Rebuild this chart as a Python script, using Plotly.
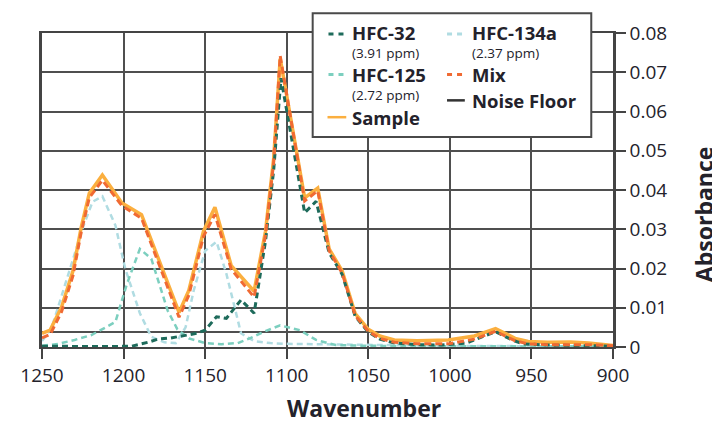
import plotly.graph_objects as go

# ---------------- data ----------------
sample_w = [1250, 1245, 1238, 1231, 1226, 1221, 1213, 1201, 1189, 1166, 1160, 1151, 1144, 1134, 1120,
            1113, 1108, 1104, 1089, 1081, 1074, 1066, 1058, 1050, 1043, 1034, 1020, 1001, 985, 972,
            960, 952, 940, 926, 915, 904, 900]
sample_a = [0.0035, 0.0043, 0.0102, 0.0194, 0.0304, 0.0392, 0.0438, 0.0367, 0.0337, 0.0088, 0.0144,
            0.0295, 0.0356, 0.0207, 0.0142, 0.0295, 0.048, 0.0735, 0.0380, 0.0405, 0.025, 0.0194,
            0.0085, 0.0045, 0.0028, 0.0018, 0.0016, 0.0018, 0.0028, 0.0047, 0.0022, 0.0014, 0.0012,
            0.0013, 0.0010, 0.0006, 0.0004]

mix_w = [1250, 1245, 1238, 1231, 1226, 1221, 1213, 1201, 1189, 1166, 1160, 1151, 1144, 1134, 1120,
         1113, 1108, 1104, 1089, 1081, 1074, 1066, 1058, 1050, 1043, 1034, 1020, 1001, 985, 972,
         960, 952, 940, 926, 915, 904, 900]
mix_a = [0.0023, 0.0032, 0.0090, 0.0182, 0.0292, 0.0380, 0.0425, 0.0360, 0.0328, 0.0076, 0.0132,
         0.0282, 0.0338, 0.0198, 0.0127, 0.0285, 0.047, 0.0742, 0.0372, 0.0398, 0.0245, 0.0188,
         0.0080, 0.0040, 0.0022, 0.0012, 0.0008, 0.0008, 0.0020, 0.0040, 0.0016, 0.0008, 0.0006,
         0.0007, 0.0006, 0.0004, 0.0003]

hfc32_w = [1250, 1230, 1210, 1195, 1185, 1179, 1171, 1163, 1155, 1150, 1143, 1137, 1128, 1120, 1113,
           1108, 1103.5, 1089, 1082, 1074, 1066, 1058, 1050, 1043, 1034, 1020, 1005, 990, 982, 972,
           962, 955, 940, 920, 900]
hfc32_a = [0.0002, 0.0001, 0.0001, 0.0002, 0.0012, 0.0020, 0.0023, 0.0029, 0.0035, 0.0043, 0.0077,
           0.0073, 0.0120, 0.0086, 0.0270, 0.045, 0.0685, 0.0342, 0.0371, 0.0240, 0.0185, 0.0078,
           0.0038, 0.0020, 0.0010, 0.0006, 0.0005, 0.0010, 0.0022, 0.0039, 0.0018, 0.0008, 0.0005,
           0.0004, 0.0002]

hfc125_w = [1250, 1240, 1230, 1220, 1211, 1205, 1198, 1190, 1183, 1173, 1167, 1160, 1150, 1140, 1130,
            1122, 1114, 1104, 1092, 1082, 1070, 1050, 1000, 950, 900]
hfc125_a = [0.0003, 0.0008, 0.0018, 0.0030, 0.0050, 0.0064, 0.0160, 0.0250, 0.0225, 0.0093, 0.0045,
            0.0022, 0.0010, 0.0007, 0.0010, 0.0023, 0.0039, 0.0055, 0.0043, 0.0018, 0.0005, 0.0003,
            0.0002, 0.0002, 0.0001]

hfc134a_w = [1250, 1244, 1235, 1225, 1219, 1213, 1205, 1199, 1190, 1183, 1175, 1168, 1162, 1157, 1150,
             1143, 1137, 1128, 1120, 1110, 1100, 1050, 1000, 950, 900]
hfc134a_a = [0.0015, 0.0050, 0.0170, 0.0304, 0.0370, 0.0384, 0.0310, 0.0200, 0.0086, 0.0026, 0.0012,
             0.0010, 0.0050, 0.0144, 0.0245, 0.0268, 0.0187, 0.0035, 0.0015, 0.0010, 0.0008, 0.0005,
             0.0003, 0.0002, 0.0002]

noise_w = [1250, 900]
noise_a = [0.0038, 0.0038]

x_ticks = [1250, 1200, 1150, 1100, 1050, 1000, 950, 900]
y_ticks = [0, 0.01, 0.02, 0.03, 0.04, 0.05, 0.06, 0.07, 0.08]
y_ticktext = ["0", "0.01", "0.02", "0.03", "0.04", "0.05", "0.06", "0.07", "0.08"]

C32 = "#1e6b5b"
C125 = "#7ccfbf"
C134 = "#b0dce2"
CMIX = "#f06a33"
CSAMP = "#fbaf3f"
GRID = "#4f4f4f"
TXT = "#23222b"
FONT = "Open Sans"

fig = go.Figure()
fig.add_trace(go.Scatter(x=noise_w, y=noise_a, mode="lines", name="Noise Floor",
                         line=dict(color=GRID, width=2)))
fig.add_trace(go.Scatter(x=hfc134a_w, y=hfc134a_a, mode="lines", name="HFC-134a",
                         line=dict(color=C134, width=2.5, dash="6px,4px")))
fig.add_trace(go.Scatter(x=hfc125_w, y=hfc125_a, mode="lines", name="HFC-125",
                         line=dict(color=C125, width=2.5, dash="6px,4px")))
fig.add_trace(go.Scatter(x=sample_w, y=sample_a, mode="lines", name="Sample",
                         line=dict(color=CSAMP, width=3.5)))
fig.add_trace(go.Scatter(x=hfc32_w, y=hfc32_a, mode="lines", name="HFC-32",
                         line=dict(color=C32, width=3, dash="6px,4px")))
fig.add_trace(go.Scatter(x=mix_w, y=mix_a, mode="lines", name="Mix",
                         line=dict(color=CMIX, width=3, dash="7px,4px")))

# The page body has an 8px default margin: work in page pixels, shift by OFF.
OFF = 8
W, H = 720 - OFF, 424 - OFF
L, R, T, B = 35 - OFF, 613 - OFF, 30 - OFF, 347 - OFF


def px(xp):
    return (xp - OFF - L) / (R - L)


def py(yp):
    return (B - (yp - OFF)) / (B - T)


shapes = []
annotations = []

# legend box
shapes.append(dict(type="rect", xref="paper", yref="paper", x0=px(309), x1=px(591), y0=py(135), y1=py(10),
                   line=dict(color="#4a4a4a", width=2), fillcolor="white", layer="above"))

legend_items = [
    # symbol x0, x1, y, color, dash, label, sub, label_y, sub_y, text_x
    (325, 342, 31, C32, "5px,5px", "HFC-32", "(3.91 ppm)", 29, 50, 348),
    (325, 342, 72, C125, "5px,5px", "HFC-125", "(2.72 ppm)", 72, 93, 348),
    (324, 343, 115, CSAMP, None, "Sample", None, 115, None, 348),
    (445, 463, 31, C134, "5px,5px", "HFC-134a", "(2.37 ppm)", 29, 50, 469),
    (445, 463, 72, CMIX, "5px,5px", "Mix", None, 72, None, 469),
    (445, 463, 98, "#333333", None, "Noise Floor", None, 98, None, 469),
]
for x0, x1, yy, col, dash, lab, sub, ly, sy, tx in legend_items:
    ln = dict(color=col, width=3 if dash else 2.5)
    if dash:
        ln["dash"] = dash
    shapes.append(dict(type="line", xref="paper", yref="paper", x0=px(x0), x1=px(x1), y0=py(yy), y1=py(yy),
                       line=ln, layer="above"))
    annotations.append(dict(xref="paper", yref="paper", x=px(tx), y=py(ly), xanchor="left", yanchor="middle",
                            text="<b>" + lab + "</b>", showarrow=False, borderpad=0,
                            font=dict(family=FONT, size=18.5, color=TXT)))
    if sub:
        annotations.append(dict(xref="paper", yref="paper", x=px(tx), y=py(sy), xanchor="left",
                                yanchor="middle", text=sub, showarrow=False, borderpad=0,
                                font=dict(family=FONT, size=13.5, color=TXT)))

# axis titles
annotations.append(dict(xref="paper", yref="paper", x=px(361), y=py(409), xanchor="center", yanchor="middle",
                        text="<b>Wavenumber</b>", showarrow=False, font=dict(family=FONT, size=23, color=TXT)))
annotations.append(dict(xref="paper", yref="paper", x=px(705), y=py(213), xanchor="center", yanchor="middle",
                        text="<b>Absorbance</b>", textangle=-90, showarrow=False,
                        font=dict(family=FONT, size=23, color=TXT)))

fig.update_layout(
    width=W, height=H,
    margin=dict(l=L, r=W - R, t=T, b=H - B, pad=0),
    paper_bgcolor="white", plot_bgcolor="white",
    showlegend=False,
    shapes=shapes, annotations=annotations,
    font=dict(family=FONT, color=TXT),
)
fig.update_xaxes(range=[1250, 900], tickvals=x_ticks, ticktext=[str(v) for v in x_ticks],
                 showgrid=True, gridcolor=GRID, gridwidth=2, zeroline=False,
                 showline=True, linecolor="#444444", linewidth=2, mirror=True,
                 ticks="outside", ticklen=10, tickwidth=2, tickcolor="#444444",
                 tickfont=dict(family=FONT, size=19, color=TXT))
fig.update_yaxes(range=[0, 0.08], side="right", tickvals=y_ticks, ticktext=y_ticktext,
                 showgrid=True, gridcolor=GRID, gridwidth=2, zeroline=False,
                 showline=True, linecolor="#444444", linewidth=2.5, mirror=True,
                 ticks="outside", ticklen=10, tickwidth=2, tickcolor="#444444",
                 tickfont=dict(family=FONT, size=19, color=TXT))

fig.write_html("out.html")
